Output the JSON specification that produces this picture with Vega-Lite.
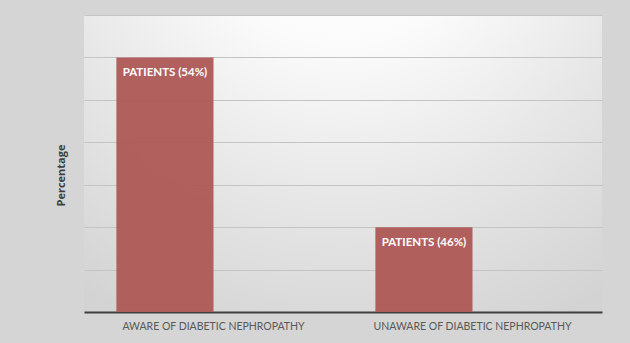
{
  "$schema": "https://vega.github.io/schema/vega-lite/v6.json",
  "width": 518,
  "height": 297,
  "autosize": {"type": "none"},
  "padding": {"left": 84, "top": 15, "right": 28, "bottom": 31},
  "background": "#d5d5d5",
  "view": {
    "stroke": null,
    "fill": {
      "gradient": "radial",
      "x1": 0.5, "y1": 0.0, "r1": 0,
      "x2": 0.5, "y2": 0.0, "r2": 0.9,
      "stops": [
        {"offset": 0, "color": "#ffffff"},
        {"offset": 0.3, "color": "#fbfbfb"},
        {"offset": 0.65, "color": "#e6e6e6"},
        {"offset": 1, "color": "#d3d3d3"}
      ]
    }
  },
  "data": {
    "values": [
      {"awareness": "AWARE OF DIABETIC NEPHROPATHY", "series": "Patients", "percent": 54, "label": "PATIENTS (54%)"},
      {"awareness": "UNAWARE OF DIABETIC NEPHROPATHY", "series": "Patients", "percent": 46, "label": "PATIENTS (46%)"}
    ]
  },
  "encoding": {
    "x": {
      "field": "awareness",
      "type": "nominal",
      "sort": null,
      "scale": {"paddingInner": 0.25, "paddingOuter": 0.125},
      "axis": {
        "title": null,
        "labelAngle": 0,
        "labelFont": "Lato",
        "labelFontSize": 10.5,
        "labelColor": "#595959",
        "labelPadding": 9,
        "labelLimit": 400,
        "ticks": false,
        "tickSize": 0,
        "domainColor": "#404040",
        "domainWidth": 2,
        "grid": false
      }
    },
    "xOffset": {
      "field": "series",
      "type": "nominal",
      "scale": {"domain": ["Patients", "Other"], "paddingInner": 0, "paddingOuter": 0}
    }
  },
  "layer": [
    {
      "mark": {"type": "bar", "color": "#b05b59", "opacity": 0.97},
      "encoding": {
        "y": {
          "field": "percent",
          "type": "quantitative",
          "scale": {"domain": [42, 56], "zero": false, "nice": false},
          "axis": {
            "title": "Percentage",
            "titleFont": "Open Sans",
            "titleFontSize": 11,
            "titleFontWeight": "bold",
            "titleColor": "#404040",
            "titlePadding": 18,
            "titleY": 160,
            "values": [42, 44, 46, 48, 50, 52, 54, 56],
            "labels": false,
            "ticks": false,
            "domain": false,
            "grid": true,
            "gridColor": "#c4c4c4",
            "gridWidth": 1
          }
        },
        "y2": {"datum": 42}
      }
    },
    {
      "mark": {
        "type": "text",
        "color": "#ffffff",
        "font": "Lato",
        "fontSize": 11.5,
        "fontWeight": "bold",
        "baseline": "middle",
        "dy": 16
      },
      "encoding": {
        "y": {"field": "percent", "type": "quantitative"},
        "text": {"field": "label", "type": "nominal"}
      }
    }
  ]
}
